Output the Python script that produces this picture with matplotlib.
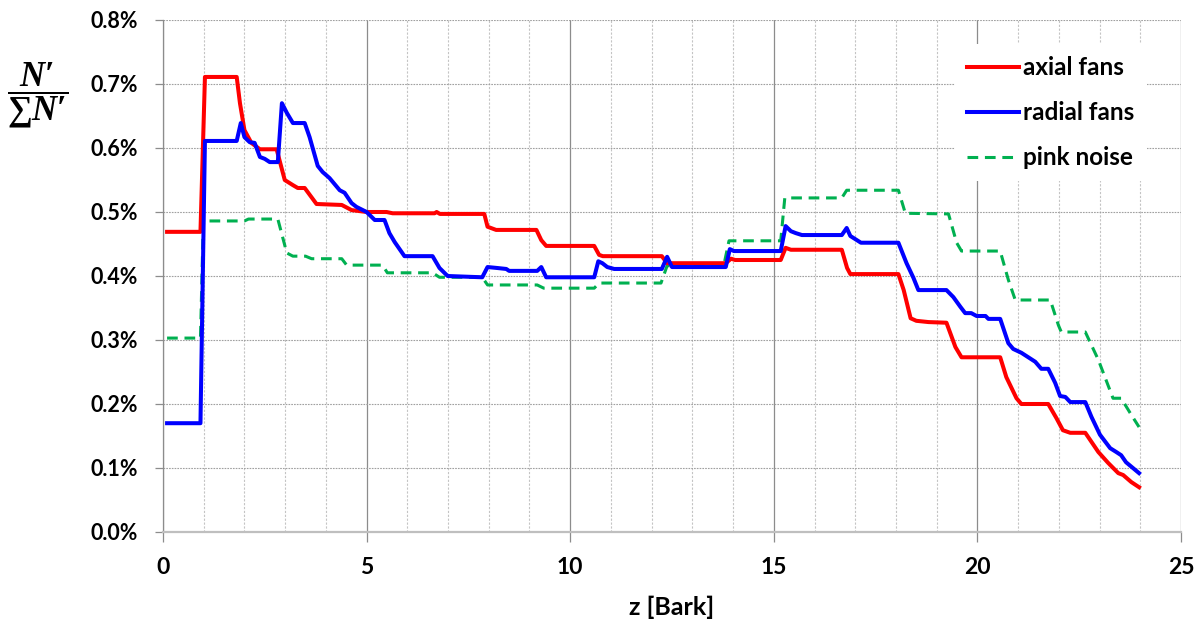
import matplotlib
matplotlib.use("Agg")
import matplotlib.pyplot as plt
from matplotlib.ticker import MultipleLocator, FuncFormatter

# ---- data (percent values) ----
axial_x = [0.1, 0.92, 1.03, 1.81, 1.89, 2.0, 2.17, 2.38, 2.79, 2.99, 3.19, 3.31, 3.48, 3.77, 4.39, 4.63, 5.0, 5.49,
           5.64, 6.67, 6.72, 6.8, 7.89, 7.97, 8.18, 9.17, 9.29, 9.41, 10.59, 10.71, 10.8, 12.25, 12.38, 13.82, 13.95,
           14.05, 15.17, 15.29, 15.42, 16.67, 16.8, 16.88, 18.06, 18.19, 18.36, 18.5, 18.8, 19.24, 19.46, 19.61, 20.56,
           20.71, 20.96, 21.08, 21.74, 21.94, 22.1, 22.28, 22.65, 22.97, 23.21, 23.46, 23.58, 23.78, 23.97]
axial_y = [0.469, 0.469, 0.711, 0.711, 0.670, 0.628, 0.608, 0.598, 0.598, 0.550, 0.542, 0.5375, 0.5375, 0.5125, 0.511,
           0.503, 0.500, 0.500, 0.498, 0.498, 0.500, 0.497, 0.497, 0.477, 0.472, 0.472, 0.456, 0.447, 0.447, 0.433,
           0.431, 0.431, 0.420, 0.420, 0.427, 0.425, 0.425, 0.444, 0.441, 0.441, 0.4125, 0.403, 0.403, 0.378, 0.334,
           0.330, 0.328, 0.327, 0.289, 0.273, 0.273, 0.242, 0.209, 0.200, 0.200, 0.178, 0.159, 0.155, 0.155, 0.125,
           0.108, 0.092, 0.089, 0.078, 0.070]

radial_x = [0.1, 0.92, 1.03, 1.81, 1.91, 2.0, 2.13, 2.25, 2.38, 2.5, 2.62, 2.82, 2.92, 3.04, 3.19, 3.48, 3.6, 3.8, 3.92,
            4.09, 4.34, 4.46, 4.63, 4.75, 5.0, 5.2, 5.44, 5.56, 5.69, 5.93, 6.62, 6.79, 6.99, 7.84, 7.97, 8.21, 8.43,
            8.5, 9.19, 9.29, 9.41, 10.59, 10.69, 10.79, 10.91, 11.08, 12.25, 12.38, 12.5, 13.82, 13.92, 14.02, 15.17,
            15.29, 15.42, 15.54, 15.69, 16.67, 16.79, 16.88, 17.14, 18.06, 18.26, 18.43, 18.55, 19.24, 19.41, 19.58,
            19.7, 19.85, 19.98, 20.2, 20.27, 20.56, 20.76, 20.88, 21.08, 21.25, 21.42, 21.57, 21.74, 21.91, 22.03,
            22.16, 22.28, 22.65, 22.8, 23.01, 23.26, 23.41, 23.53, 23.65, 23.97]
radial_y = [0.170, 0.170, 0.611, 0.611, 0.639, 0.617, 0.609, 0.608, 0.586, 0.583, 0.578, 0.578, 0.670, 0.655, 0.639,
            0.639, 0.617, 0.572, 0.5625, 0.553, 0.534, 0.530, 0.514, 0.508, 0.500, 0.4875, 0.4875, 0.467, 0.453,
            0.431, 0.431, 0.4125, 0.400, 0.398, 0.414, 0.4125, 0.411, 0.408, 0.408, 0.414, 0.398, 0.398, 0.423, 0.420,
            0.414, 0.411, 0.411, 0.430, 0.414, 0.414, 0.442, 0.439, 0.439, 0.478, 0.470, 0.467, 0.464, 0.464, 0.475,
            0.4625, 0.452, 0.452, 0.420, 0.397, 0.378, 0.378, 0.367, 0.352, 0.342, 0.342, 0.3375, 0.3375, 0.333,
            0.333, 0.295, 0.286, 0.280, 0.273, 0.266, 0.255, 0.255, 0.233, 0.2125, 0.211, 0.203, 0.203, 0.180, 0.152,
            0.131, 0.125, 0.120, 0.109, 0.092]

pink_x = [0.1, 0.92, 0.99, 2.0, 2.1, 2.82, 3.04, 3.19, 3.5, 3.65, 4.39, 4.51, 5.39, 5.51, 6.62, 6.79, 7.84, 7.97, 9.19,
          9.35, 10.59, 10.71, 12.23, 12.38, 13.77, 13.9, 15.17, 15.27, 16.67, 16.79, 18.06, 18.23, 19.29, 19.49, 19.61,
          20.56, 20.76, 20.93, 21.79, 21.99, 22.06, 22.65, 22.97, 23.33, 23.53, 23.78, 23.97]
pink_y = [0.303, 0.303, 0.486, 0.486, 0.489, 0.489, 0.436, 0.431, 0.431, 0.427, 0.427, 0.417, 0.417, 0.405, 0.405,
          0.398, 0.398, 0.386, 0.386, 0.381, 0.381, 0.389, 0.389, 0.416, 0.416, 0.455, 0.455, 0.522, 0.522, 0.534,
          0.534, 0.498, 0.497, 0.452, 0.439, 0.439, 0.394, 0.3625, 0.3625, 0.323, 0.3125, 0.3125, 0.269, 0.209,
          0.209, 0.183, 0.164]

labels = ["axial fans", "radial fans", "pink noise"]
x_ticks = [0, 5, 10, 15, 20, 25]

plt.rcParams['font.family'] = ['Lato', 'DejaVu Sans']
plt.rcParams['mathtext.fontset'] = 'custom'
plt.rcParams['mathtext.it'] = 'Liberation Serif:italic:bold'
plt.rcParams['mathtext.rm'] = 'Liberation Serif:bold'
plt.rcParams['mathtext.bf'] = 'Liberation Serif:bold'

W, H = 1203, 623
fig = plt.figure(figsize=(W / 100, H / 100), dpi=100)
ax = fig.add_axes([163 / W, 1 - 532 / H, (1181 - 163) / W, (532 - 20) / H])

ax.plot(axial_x, axial_y, color='#ff0000', lw=2.9, label=labels[0], zorder=4, solid_joinstyle='round')
ax.plot(radial_x, radial_y, color='#0000ff', lw=2.9, label=labels[1], zorder=5, solid_joinstyle='round')
ax.plot(pink_x, pink_y, color='#00b050', lw=2.2, ls=(0, (3.5, 2.2)), label=labels[2], zorder=3)

ax.set_xlim(0, 25)
ax.set_ylim(0, 0.8)
ax.set_xticks(x_ticks)
ax.xaxis.set_minor_locator(MultipleLocator(1))
ax.yaxis.set_major_locator(MultipleLocator(0.1))
ax.yaxis.set_major_formatter(FuncFormatter(lambda v, p: f"{v:.1f}%"))

ax.grid(True, which='major', axis='x', color='#8c8c8c', lw=0.9, ls='-')
ax.grid(True, which='minor', axis='x', color='#c4c4c4', lw=0.8, ls=(0, (2, 1.5)))
ax.grid(True, which='major', axis='y', color='#a0a0a0', lw=0.8, ls=(0, (1.5, 1.0)))
ax.set_axisbelow(True)

for s in ['top', 'right']:
    ax.spines[s].set_visible(False)
ax.spines['left'].set_color('#8c8c8c')
ax.spines['left'].set_linewidth(0.9)
ax.spines['bottom'].set_color('#bfbfbf')
ax.spines['bottom'].set_linewidth(1.6)

ax.tick_params(axis='x', which='major', direction='out', length=7, width=0.9, color='#8c8c8c',
               pad=11, labelsize=16.5)
ax.tick_params(axis='x', which='minor', length=0)
ax.tick_params(axis='y', which='major', direction='out', length=6, width=0.9, color='#8c8c8c',
               pad=12, labelsize=15.5)
for lab in ax.get_xticklabels() + ax.get_yticklabels():
    lab.set_fontweight('bold')

ax.set_xlabel("z [Bark]", fontsize=18, fontweight='bold', va='top')
ax.xaxis.set_label_coords(0.5, (532 - 596) / 512)

fig.text(38 / W, 1 - 95 / H, "$\\dfrac{N\u2032}{\\sum N\u2032}$", fontsize=25, ha='center', va='center')

fs_leg = 17.5
leg = ax.legend(loc='upper left', bbox_to_anchor=(943 / W, 1 - 32 / H), bbox_transform=fig.transFigure,
                frameon=True, fancybox=False, edgecolor='none', facecolor='white', framealpha=1,
                prop={'weight': 'bold', 'size': fs_leg}, handlelength=2.14, handletextpad=0.16,
                labelspacing=0.9, borderpad=0.5)

fig.savefig("out.png", dpi=100)
